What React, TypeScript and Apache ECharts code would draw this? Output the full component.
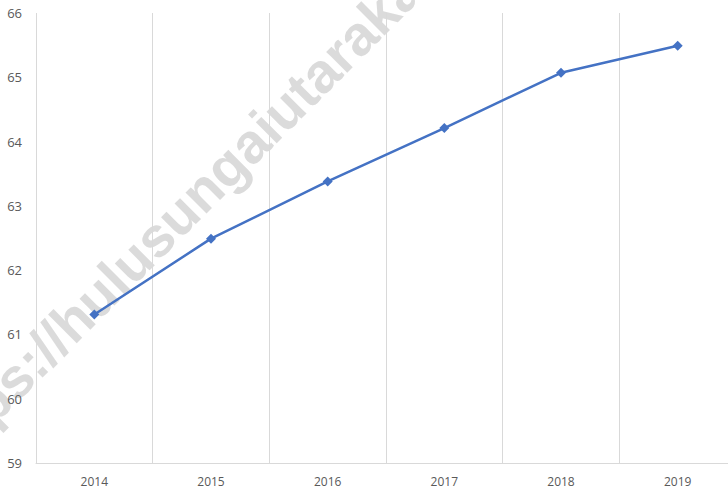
import React, { useEffect, useRef } from "react";
import * as echarts from "echarts";

const years = ["2014", "2015", "2016", "2017", "2018", "2019"];
const values = [61.31, 62.49, 63.38, 64.21, 65.07, 65.49];
const yMin = 59;
const yMax = 66;
const watermarkText = "https://hulusungaiutarakab.bps.go.id";

export default function App() {
  const ref = useRef<HTMLDivElement>(null);
  useEffect(() => {
    if (!ref.current) return;
    const chart = echarts.init(ref.current, null, { renderer: "svg" });
    chart.setOption({
      animation: false,
      backgroundColor: "#ffffff",
      grid: { left: 36, right: 0, top: 13, bottom: 27, containLabel: false },
      graphic: [
        {
          type: "text",
          x: -52,
          y: 484,
          rotation: (45 * Math.PI) / 180,
          z: 0,
          silent: true,
          style: {
            text: watermarkText,
            font: "bold 56px 'Liberation Sans', Arial, sans-serif",
            fill: "rgba(190,190,190,0.55)",
            textAlign: "left",
            textVerticalAlign: "bottom",
          },
        },
      ],
      xAxis: {
        type: "category",
        data: years,
        boundaryGap: true,
        axisLine: { show: true, lineStyle: { color: "#d9d9d9", width: 1 } },
        axisTick: { show: false },
        splitLine: { show: true, lineStyle: { color: "#d9d9d9", width: 1 } },
        axisLabel: {
          color: "#595959",
          fontSize: 12,
          fontFamily: "'Open Sans', sans-serif",
          margin: 12,
        },
      },
      yAxis: {
        type: "value",
        min: yMin,
        max: yMax,
        interval: 1,
        axisLine: { show: false },
        axisTick: { show: false },
        splitLine: { show: false },
        axisLabel: {
          color: "#595959",
          fontSize: 13,
          fontFamily: "'Open Sans', sans-serif",
          margin: 14,
        },
      },
      series: [
        {
          type: "line",
          data: values,
          symbol: "diamond",
          symbolSize: 10,
          z: 3,
          lineStyle: { color: "#4472C4", width: 2.5 },
          itemStyle: { color: "#4472C4" },
        },
      ],
    });
    return () => chart.dispose();
  }, []);
  return (
    <div
      style={{
        position: "fixed",
        left: 0,
        top: 0,
        width: 728,
        height: 490,
        overflow: "hidden",
      }}
    >
      <div ref={ref} style={{ width: 736, height: 490 }} />
    </div>
  );
}
